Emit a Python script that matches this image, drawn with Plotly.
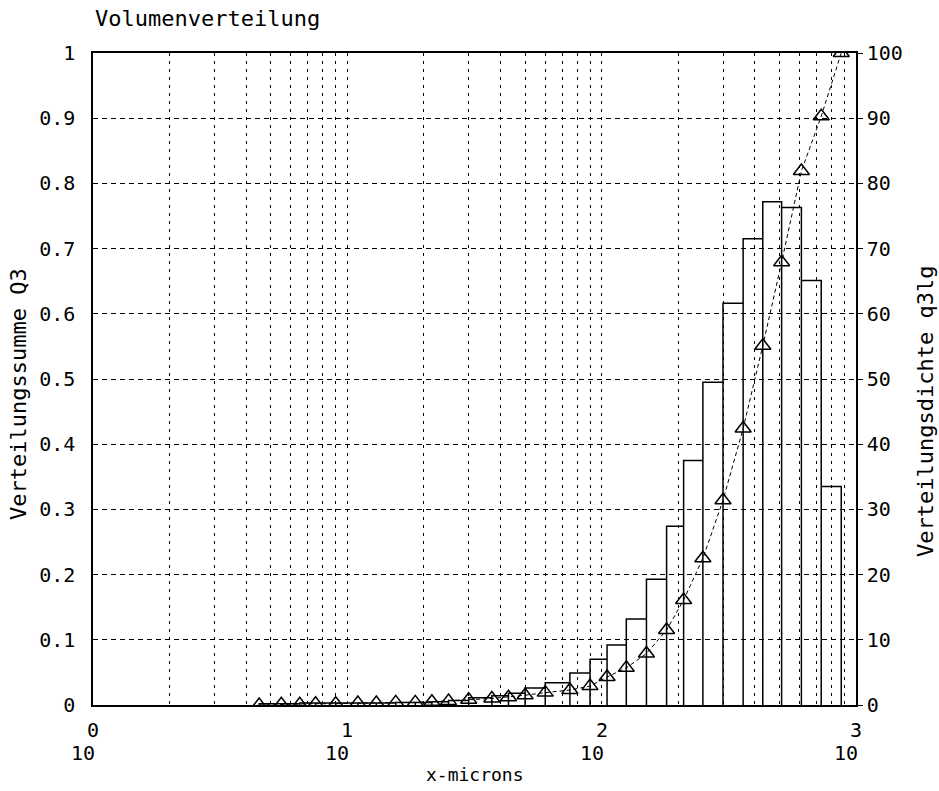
import plotly.graph_objects as go
import numpy as np

# Size-class edges (microns)
edges = [4.5, 5.5, 6.5, 7.5, 9, 11, 13, 15.5, 18.5, 21.5, 25, 30, 37, 43, 50, 60,
         75, 90, 105, 125, 150, 180, 210, 250, 300, 360, 430, 510, 610, 730, 875]
# Density distribution q3lg per class (right axis, %)
q3lg = [0.2, 0.2, 0.3, 0.3, 0.3, 0.3, 0.3, 0.4, 0.4, 0.5, 0.7, 1.1, 1.4, 1.8, 2.6,
        3.4, 4.9, 7.0, 9.2, 13.2, 19.3, 27.4, 37.5, 49.5, 61.6, 71.5, 77.2, 76.3,
        65.1, 33.5]
# Cumulative distribution Q3 at class upper edges (left axis)
Q3 = [0.000, 0.001, 0.001, 0.002, 0.002, 0.003, 0.003, 0.004, 0.004, 0.005, 0.006,
      0.008, 0.010, 0.012, 0.015, 0.019, 0.023, 0.029, 0.043, 0.057, 0.079, 0.115,
      0.161, 0.225, 0.314, 0.424, 0.551, 0.679, 0.819, 0.903, 1.000]

left_ticks = [0, 0.1, 0.2, 0.3, 0.4, 0.5, 0.6, 0.7, 0.8, 0.9, 1]
left_ticktext = ["0", "0.1", "0.2", "0.3", "0.4", "0.5", "0.6", "0.7", "0.8", "0.9", "1"]
right_ticks = [0, 10, 20, 30, 40, 50, 60, 70, 80, 90, 100]
x_exponents = [0, 1, 2, 3]

FONT = "DejaVu Sans Mono"

# histogram outline path built from class edges and densities
hx, hy = [edges[0]], [0]
for lo, hi, v in zip(edges[:-1], edges[1:], q3lg):
    hx += [lo, hi, hi]
    hy += [v, v, 0]

fig = go.Figure()
fig.add_trace(go.Scatter(x=hx, y=hy, mode="lines", yaxis="y2",
                         line=dict(color="black", width=1.5), showlegend=False))
fig.add_trace(go.Scatter(x=edges, y=Q3, mode="lines+markers",
                         line=dict(color="black", width=1, dash="4px,3px"),
                         marker=dict(symbol="triangle-up-open", size=14,
                                     color="black", line=dict(width=1.5, color="black")),
                         showlegend=False))

minor_vals = [m * 10 ** k for k in range(3) for m in range(1, 10)] + [1000]

fig.update_layout(
    width=939, height=791,
    margin=dict(l=93, r=83, t=53, b=86),
    paper_bgcolor="white", plot_bgcolor="white",
    font=dict(family=FONT, color="black", size=20),
    xaxis=dict(type="log", range=[0, 3], tickmode="array", tickvals=minor_vals,
               showticklabels=False, ticks="", showgrid=True, gridcolor="black",
               gridwidth=1, griddash="3px,5px", showline=True, linecolor="black",
               linewidth=1.5, mirror=True, zeroline=False),
    yaxis=dict(range=[0, 1], tickmode="array", tickvals=left_ticks,
               ticktext=left_ticktext, showgrid=True, gridcolor="black",
               gridwidth=1, griddash="5px,4px", showline=True, linecolor="black",
               linewidth=1.5, mirror=True, zeroline=False, ticks="",
               ticklabelstandoff=12, tickfont=dict(size=20, family=FONT)),
    yaxis2=dict(range=[0, 100], overlaying="y", side="right", tickmode="array",
                tickvals=right_ticks, showgrid=False, zeroline=False,
                ticks="outside", ticklen=5, tickcolor="black",
                showline=True, linecolor="black", linewidth=1.5,
                tickfont=dict(size=20, family=FONT)),
)

ann = []
for k in x_exponents:
    ann.append(dict(x=k, y=0, xref="x", yref="paper", text=str(k), showarrow=False,
                    xanchor="center", yanchor="middle", yshift=-25,
                    font=dict(size=20, family=FONT)))
    ann.append(dict(x=k, y=0, xref="x", yref="paper", text="10", showarrow=False,
                    xanchor="right", yanchor="middle", yshift=-48, xshift=4,
                    font=dict(size=20, family=FONT)))
ann.append(dict(x=0.5, y=0, xref="paper", yref="paper", text="x-microns",
                showarrow=False, xanchor="center", yanchor="middle", yshift=-69,
                font=dict(size=18, family=FONT)))
ann.append(dict(x=0, y=1, xref="paper", yref="paper", text="Volumenverteilung",
                showarrow=False, xanchor="left", yanchor="middle", yshift=35,
                font=dict(size=22, family=FONT)))
ann.append(dict(x=0, y=0.5, xref="paper", yref="paper", text="Verteilungssumme Q3",
                showarrow=False, xanchor="center", yanchor="middle", textangle=-90,
                xshift=-75, yshift=-15, font=dict(size=22, family=FONT)))
ann.append(dict(x=1, y=0.5, xref="paper", yref="paper", text="Verteilungsdichte q3lg",
                showarrow=False, xanchor="center", yanchor="middle", textangle=-90,
                xshift=69, yshift=-33, font=dict(size=22, family=FONT)))
fig.update_layout(annotations=ann)

fig.write_html("out.html")
